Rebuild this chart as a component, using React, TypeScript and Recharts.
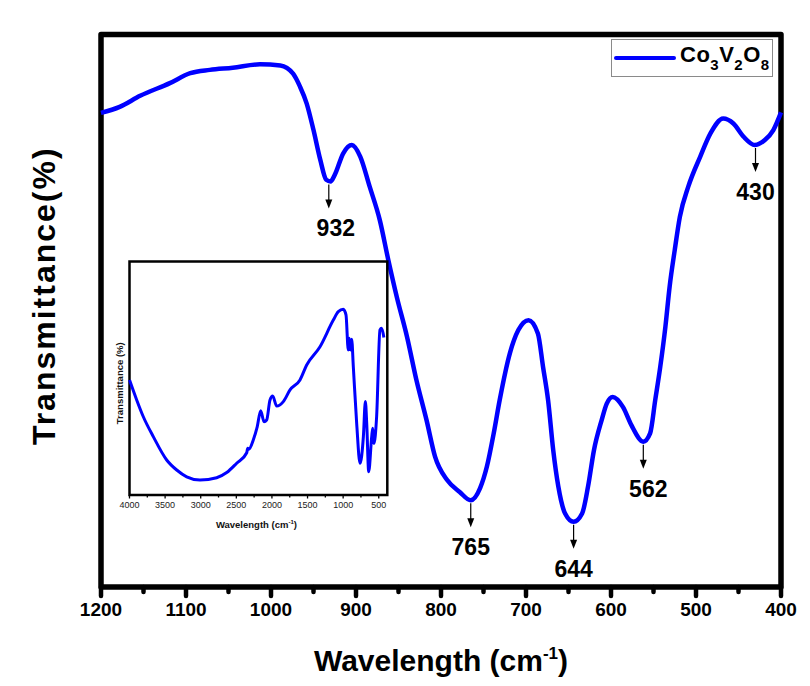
import React from "react";
import { LineChart, Line, XAxis, YAxis, ReferenceArea, ReferenceDot, Legend } from "recharts";

const FONT = "'Liberation Sans', Arial, Helvetica, sans-serif";
const BLUE = "#0000ff";

// main spectrum (cm-1 vs transmittance, arbitrary units)
const MAIN_WN = [1200, 1178, 1154, 1119, 1095, 1072, 1045, 1013, 989, 974, 966, 958, 950, 942, 935, 930, 925, 915, 905, 895, 884, 872, 862, 852, 840, 829, 817, 807, 793, 778, 765, 754, 746, 738, 731, 719, 709, 697, 686, 680, 674, 668, 662, 654, 644, 634, 627, 620, 611, 605, 598, 586, 576, 562, 554, 548, 542, 536, 531, 525, 519, 509, 495, 483, 468, 456, 444, 431, 419, 409, 400];
const MAIN_T = [85.8, 86.9, 88.9, 91.2, 93.0, 93.6, 94.0, 94.6, 94.4, 92.9, 90.6, 87.5, 82.7, 77.3, 73.7, 73.4, 74.6, 78.5, 80.0, 77.9, 72.5, 66.4, 59.2, 52.5, 45.3, 37.5, 30.2, 23.6, 19.4, 17.2, 15.7, 17.9, 21.8, 27.8, 33.8, 42.3, 46.5, 48.3, 45.9, 39.9, 33.8, 24.8, 18.2, 13.3, 11.8, 13.3, 18.2, 24.8, 30.2, 33.2, 34.4, 32.6, 29.3, 26.3, 27.8, 33.8, 39.9, 47.1, 54.4, 61.0, 67.0, 72.5, 77.9, 82.1, 84.8, 83.9, 81.5, 80.0, 80.9, 82.7, 85.9];

// marked band positions and the transmittance at each minimum
const PEAKS = [932, 765, 644, 562, 430];
const PEAK_T = [73.4, 15.7, 11.8, 26.3, 80.0];

const MAIN_TICKS = [1200, 1150, 1100, 1050, 1000, 950, 900, 850, 800, 750, 700, 650, 600, 550, 500, 450, 400];
const MAIN_LABELED = [1200, 1100, 1000, 900, 800, 700, 600, 500, 400];

// inset: full range spectrum
const INSET_WN = [4000, 3899, 3806, 3666, 3478, 3337, 3197, 3010, 2776, 2635, 2495, 2354, 2340, 2325, 2262, 2206, 2158, 2111, 2074, 2027, 1989, 1933, 1840, 1746, 1606, 1512, 1325, 1138, 1068, 998, 960, 928, 914, 894, 880, 857, 810, 763, 716, 688, 669, 641, 599, 585, 567, 530, 483, 460, 428];
const INSET_T = [49.3, 40.7, 33.5, 25.0, 15.0, 10.7, 7.8, 6.4, 7.4, 9.6, 13.6, 18.1, 20.0, 19.6, 23.6, 29.3, 36.1, 31.4, 32.1, 40.7, 42.4, 38.1, 40.0, 45.0, 49.3, 55.7, 63.5, 74.9, 78.5, 79.5, 77.1, 62.1, 67.1, 62.1, 66.7, 54.9, 30.7, 13.6, 25.0, 40.0, 30.7, 10.0, 25.0, 28.6, 22.1, 33.5, 70.7, 71.4, 67.5];
const INSET_TICKS = [4000, 3750, 3500, 3250, 3000, 2750, 2500, 2250, 2000, 1750, 1500, 1250, 1000, 750, 500];
const INSET_LABELED = [4000, 3500, 3000, 2500, 2000, 1500, 1000, 500];

const mainData = MAIN_WN.map((wn, i) => ({ wn, t: MAIN_T[i] }));
const insetData = INSET_WN.map((wn, i) => ({ wn, t: INSET_T[i] }));

const labelShift: Record<number, number> = { 932: 7, 562: 5 };

// tick: label y from recharts = axis y + tickSize + tickMargin
const MainTick = (props: any) => {
  const { x, y, payload } = props;
  const axisY = y - 16;
  const major = MAIN_LABELED.includes(payload.value);
  return (
    <g>
      <line x1={x} y1={axisY} x2={x} y2={axisY + (major ? 9 : 5)} stroke="#000" strokeWidth={4.5} strokeLinecap="round" />
      {major && (
        <text x={x} y={axisY + 16} dy="0.71em" textAnchor="middle" fontSize={19} fontWeight="bold" fontFamily={FONT} fill="#000">
          {payload.value}
        </text>
      )}
    </g>
  );
};

const InsetTick = (props: any) => {
  const { x, y, payload } = props;
  const axisY = y - 6.5;
  const major = INSET_LABELED.includes(payload.value);
  return (
    <g>
      <line x1={x} y1={axisY} x2={x} y2={axisY + (major ? 3.5 : 2.5)} stroke="#000" strokeWidth={1.3} />
      {major && (
        <text x={x} y={axisY + 6.5} dy="0.71em" textAnchor="middle" fontSize={9} fontFamily={FONT} fill="#222">
          {payload.value}
        </text>
      )}
    </g>
  );
};

const PeakMarker = (props: any) => {
  const { cx, cy, text } = props;
  const dx = labelShift[text] || 0;
  return (
    <g>
      <line x1={cx} y1={cy + 3} x2={cx} y2={cy + 20} stroke="#000" strokeWidth={1.2} />
      <polygon points={`${cx - 3.5},${cy + 18} ${cx + 3.5},${cy + 18} ${cx},${cy + 27}`} fill="#000" />
      <text x={cx + dx} y={cy + 55} textAnchor="middle" fontSize={23} fontWeight="bold" fontFamily={FONT} fill="#000">
        {text}
      </text>
    </g>
  );
};

const LegendBox = () => (
  <div style={{ boxSizing: "border-box", width: 162, height: 38, border: "1px solid #8a8a8a", background: "#fff", display: "flex", alignItems: "center", fontFamily: FONT }}>
    <svg width={64} height={10} style={{ marginLeft: 1 }}>
      <line x1={3} y1={5} x2={61} y2={5} stroke={BLUE} strokeWidth={4} strokeLinecap="round" />
    </svg>
    <span style={{ fontWeight: 700, fontSize: 22, letterSpacing: 0.5, marginLeft: 3, marginTop: -6, color: "#000" }}>
      Co<span style={{ fontSize: 15, position: "relative", top: 8 }}>3</span>V<span style={{ fontSize: 15, position: "relative", top: 8 }}>2</span>O<span style={{ fontSize: 15, position: "relative", top: 8 }}>8</span>
    </span>
  </div>
);

const MainXTitle = (props: any) => {
  const { viewBox } = props;
  const cx = viewBox.x + viewBox.width / 2;
  return (
    <text x={cx} y={663} textAnchor="middle" fontSize={30} fontWeight="bold" fontFamily={FONT} fill="#000">
      Wavelength (cm<tspan fontSize={17} dy={-12}>-1</tspan><tspan dy={12}>)</tspan>
    </text>
  );
};

// y title hangs off the frame rectangle
const MainYTitle = (props: any) => {
  const { viewBox } = props;
  const x = viewBox.x - 46;
  const y = viewBox.y + viewBox.height / 2 - 15;
  return (
    <text x={x} y={y} transform={`rotate(-90, ${x}, ${y})`} textAnchor="middle" fontSize={32} letterSpacing={2} fontWeight="bold" fontFamily={FONT} fill="#000">
      Transmittance(%)
    </text>
  );
};

const InsetXTitle = (props: any) => {
  const { viewBox } = props;
  const cx = viewBox.x + viewBox.width / 2;
  return (
    <text x={cx - 2} y={278} textAnchor="middle" fontSize={9.5} fontWeight="bold" fontFamily={FONT} fill="#111">
      Wavelength (cm<tspan fontSize={6} dy={-4}>-1</tspan><tspan dy={4}>)</tspan>
    </text>
  );
};

const InsetYTitle = (props: any) => {
  const { viewBox } = props;
  const x = viewBox.x - 7;
  const y = viewBox.y + viewBox.height / 2 + 5;
  return (
    <text x={x} y={y} transform={`rotate(-90, ${x}, ${y})`} textAnchor="middle" fontSize={9.5} fontWeight="bold" fontFamily={FONT} fill="#111">
      Transmittance (%)
    </text>
  );
};

const Inset = () => (
  <LineChart width={300} height={290} data={insetData} margin={{ top: 11.5, left: 29.5, right: 12.7, bottom: 0 }}>
    <XAxis xAxisId="main" type="number" dataKey="wn" domain={[380, 4000]} reversed ticks={INSET_TICKS} interval={0} tickSize={3.5} tickMargin={3} axisLine={false} tickLine={false} tick={<InsetTick />} height={45} label={<InsetXTitle />} />
    <YAxis type="number" domain={[0, 100]} width={0} tick={false} tickLine={false} axisLine={false} />
    <ReferenceArea xAxisId="main" x1={4000} x2={380} y1={0} y2={100} fill="none" stroke="#000" strokeWidth={2.5} label={<InsetYTitle />} />
    <Line xAxisId="main" type="monotone" dataKey="t" stroke={BLUE} strokeWidth={3} dot={false} activeDot={false} isAnimationActive={false} />
  </LineChart>
);

const App: React.FC = () => {
  return (
    <div style={{ position: "relative", width: 794, height: 670, marginLeft: -1, marginTop: -1, borderLeft: "1px solid #e3161e", borderTop: "1px solid #e3161e", background: "#fff" }}>
      <LineChart width={794} height={670} data={mainData} margin={{ top: 26.5, left: 93, right: 21, bottom: 0 }}>
        <XAxis xAxisId="main" type="number" dataKey="wn" domain={[400, 1200]} reversed ticks={MAIN_TICKS} interval={0} tickSize={9} tickMargin={7} axisLine={false} tickLine={false} tick={<MainTick />} height={91} label={<MainXTitle />} />
        <YAxis type="number" domain={[0, 100]} width={0} tick={false} tickLine={false} axisLine={false} />
        <ReferenceArea xAxisId="main" x1={1200} x2={400} y1={0} y2={100} fill="none" stroke="#000" strokeWidth={5.5} strokeLinejoin="round" label={<MainYTitle />} />
        <Line xAxisId="main" type="monotone" dataKey="t" name="Co3V2O8" stroke={BLUE} strokeWidth={4.5} dot={false} activeDot={false} isAnimationActive={false} />
        {PEAKS.map((p, i) => (
          <ReferenceDot key={p} xAxisId="main" x={p} y={PEAK_T[i]} r={0} shape={(s: any) => <PeakMarker {...s} text={p} />} />
        ))}
        <Legend layout="vertical" align="center" verticalAlign="middle" wrapperStyle={{ position: "absolute", top: 31, left: 603, width: 162, height: 38 }} content={() => <LegendBox />} />
      </LineChart>
      <div style={{ position: "absolute", left: 92, top: 242 }}>
        <Inset />
      </div>
    </div>
  );
};

export default App;
